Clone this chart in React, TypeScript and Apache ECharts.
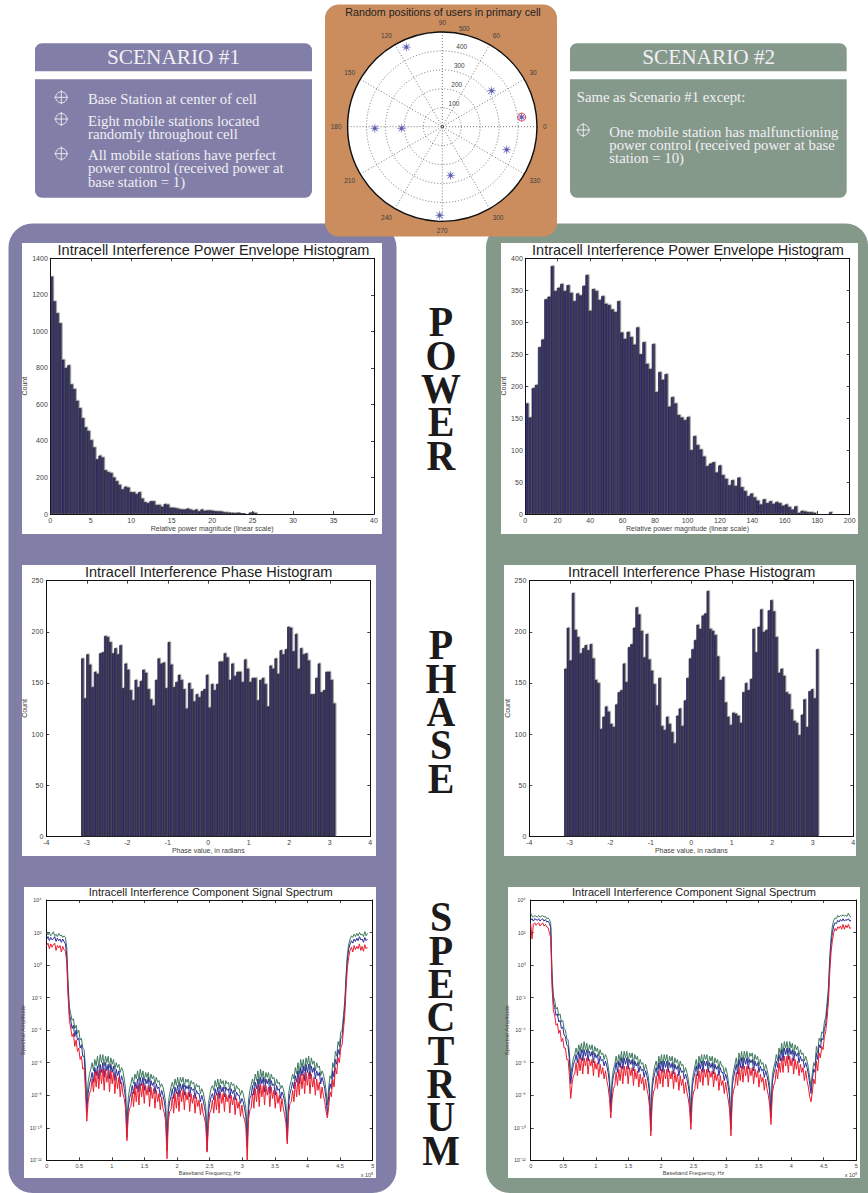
import React, { useEffect, useRef } from "react";
import * as echarts from "echarts";

// ---- Histogram values (counts) ----
const powerBinWidthA = 0.35;
const powerCountsA = [1300,1165,1100,1045,845,800,815,710,685,620,580,525,475,455,405,365,300,320,310,240,230,225,200,180,160,135,150,145,120,120,110,120,85,65,60,70,70,50,50,40,55,52,35,35,32,28,25,25,30,25,20,25,15,25,18,20,20,18,15,15,14,10,9,8,7,6,8,5,4,3,8,10,6,3,2,1,1,0,1,0,1,0,0,1,0,0,1,0,0,0,1,0,0,0,0,1,0,0,0,1];
const powerBinWidthB = 1.95;
const powerCountsB = [173,151,197,202,261,273,336,340,388,349,354,360,349,358,346,333,345,342,357,374,318,352,349,335,341,329,327,320,316,333,284,274,285,277,265,292,250,269,235,227,266,191,222,210,219,168,183,173,155,151,147,152,100,122,108,101,90,75,79,81,65,76,61,55,45,53,44,57,42,36,28,32,26,21,15,23,17,20,16,19,17,13,15,11,7,12,2,5,4,3,3,2,1,1,1,0,3,1,1,1];
const phaseCountsA = [174,135,178,168,146,161,159,179,180,196,195,190,179,184,178,187,145,169,163,143,133,153,146,152,163,160,144,134,128,153,174,169,170,145,190,168,146,151,158,153,144,125,150,144,132,139,136,142,144,158,126,149,143,149,171,171,179,175,153,169,157,161,161,151,173,164,151,155,155,133,153,155,149,127,167,164,174,159,182,178,183,205,204,181,198,164,184,178,179,172,139,139,155,169,141,143,161,161,153,130];
const phaseCountsB = [164,204,172,238,202,195,179,184,187,182,188,174,153,150,105,117,127,122,110,107,129,141,143,169,151,185,188,204,224,217,201,175,198,173,162,149,128,155,108,104,117,110,102,91,118,125,108,133,155,174,183,192,207,203,216,218,240,203,201,197,176,153,156,131,117,109,121,120,118,111,141,150,143,154,203,180,205,222,200,202,221,231,220,195,160,164,157,141,139,124,113,111,99,119,134,107,142,144,135,183];
const phaseStart = -3.14;
const phaseBinWidth = 0.0628;

// ---- Spectrum values: log10 of amplitude, one reading per 0.0205 x 10^5 Hz ----
const specStep = 0.0205;
const specGreenA = [2.0,1.85,2.0,1.8,1.9,2.05,1.8,1.9,1.75,1.95,1.8,1.85,1.7,1.8,1.7,1.1,
-1.0,-2.6,-3.0,-3.4,-3.3,-3.9,-3.7,-4.2,-4.0,-4.6,-4.5,-5.1,-5.2,-6.3,-8.4,
-7.2,-6.7,-6.4,-6.0,-6.5,-5.8,-6.2,-5.6,-6.3,-5.5,-6.0,-5.5,-6.2,-5.6,-6.0,-5.6,-6.3,-5.7,-6.1,-5.8,-6.4,-6.0,-6.3,-6.1,-6.6,-6.3,-6.5,-7.0,-7.6,-9.9,
-8.2,-7.6,-7.3,-6.9,-7.3,-6.7,-7.0,-6.5,-7.1,-6.4,-6.9,-6.5,-7.1,-6.6,-6.9,-6.6,-7.2,-6.7,-7.0,-6.8,-7.3,-6.9,-7.2,-7.1,-7.5,-7.3,-7.5,-7.9,-8.5,-10.6,
-8.5,-7.9,-7.5,-7.2,-7.6,-7.0,-7.4,-6.9,-7.5,-6.9,-7.2,-6.9,-7.5,-7.0,-7.2,-7.0,-7.6,-7.1,-7.3,-7.2,-7.7,-7.3,-7.5,-7.4,-7.9,-7.6,-7.8,-8.2,-8.7,-10.8,
-8.5,-8.0,-7.6,-7.4,-7.7,-7.1,-7.5,-7.0,-7.6,-7.0,-7.3,-7.1,-7.6,-7.1,-7.3,-7.2,-7.7,-7.2,-7.4,-7.3,-7.8,-7.4,-7.6,-7.6,-8.0,-7.7,-7.9,-8.3,-8.8,-10.4,
-8.3,-7.7,-7.4,-7.0,-7.4,-6.7,-7.1,-6.5,-7.3,-6.4,-6.9,-6.5,-7.2,-6.6,-6.9,-6.6,-7.3,-6.7,-7.0,-6.9,-7.4,-7.0,-7.3,-7.2,-7.6,-7.4,-7.6,-8.0,-8.5,-10.1,
-7.9,-7.4,-7.1,-6.7,-7.0,-6.3,-6.7,-6.0,-6.7,-5.8,-6.3,-5.8,-6.5,-5.7,-6.1,-5.6,-6.4,-5.7,-6.1,-5.9,-6.5,-6.0,-6.3,-6.2,-6.8,-6.5,-6.7,-7.1,-7.7,-8.6,
-7.5,-6.8,-7.0,-6.0,-6.3,-5.3,-5.6,-4.7,-5.0,-4.1,-4.0,-3.1,-2.2,-0.6,0.7,1.3,1.6,1.8,1.7,1.9,1.75,1.95,1.8,2.0,1.85,1.9,1.75,2.05,1.8,1.95];
const specBlueA = [1.6,1.75,1.5,1.7,1.55,1.6,1.75,1.45,1.65,1.5,1.6,1.4,1.6,1.45,1.3,0.6,
-1.6,-3.0,-3.4,-3.9,-3.7,-4.4,-4.0,-4.6,-4.5,-5.1,-4.9,-5.6,-5.6,-6.9,-9.0,
-7.9,-7.3,-7.0,-6.6,-7.2,-6.3,-6.8,-6.2,-7.0,-6.1,-6.6,-6.0,-6.9,-6.0,-6.5,-6.1,-7.0,-6.1,-6.6,-6.2,-7.1,-6.4,-6.8,-6.5,-7.3,-6.8,-7.1,-7.6,-8.2,-10.6,
-8.8,-8.2,-7.9,-7.4,-7.9,-7.2,-7.6,-7.0,-7.8,-6.9,-7.4,-6.9,-7.7,-7.0,-7.3,-6.9,-7.8,-7.1,-7.4,-7.2,-7.9,-7.3,-7.6,-7.5,-8.1,-7.7,-8.0,-8.4,-9.0,-11.4,
-9.0,-8.4,-8.1,-7.6,-8.2,-7.5,-7.9,-7.4,-8.1,-7.3,-7.7,-7.3,-8.0,-7.4,-7.6,-7.4,-8.1,-7.5,-7.7,-7.6,-8.2,-7.7,-7.9,-7.9,-8.4,-8.0,-8.3,-8.7,-9.2,-11.4,
-9.1,-8.5,-8.1,-7.9,-8.3,-7.6,-8.0,-7.5,-8.2,-7.4,-7.8,-7.5,-8.1,-7.5,-7.7,-7.6,-8.2,-7.6,-7.9,-7.7,-8.3,-7.8,-8.0,-8.0,-8.5,-8.2,-8.4,-8.8,-9.3,-11.2,
-8.9,-8.2,-8.0,-7.4,-8.0,-7.2,-7.6,-7.0,-7.9,-6.9,-7.3,-6.9,-7.8,-7.0,-7.3,-7.0,-7.9,-7.1,-7.4,-7.3,-8.0,-7.4,-7.7,-7.6,-8.2,-7.8,-8.0,-8.4,-9.0,-10.8,
-8.5,-7.9,-7.6,-7.2,-7.6,-6.8,-7.2,-6.5,-7.3,-6.3,-6.8,-6.2,-7.1,-6.1,-6.6,-6.1,-7.0,-6.2,-6.6,-6.3,-7.0,-6.5,-6.8,-6.6,-7.3,-6.9,-7.2,-7.6,-8.2,-9.2,
-8.0,-7.3,-7.6,-6.5,-6.9,-5.8,-6.1,-5.2,-5.5,-4.5,-4.4,-3.5,-2.6,-0.9,0.4,1.0,1.3,1.5,1.35,1.6,1.45,1.65,1.5,1.75,1.55,1.6,1.4,1.7,1.5,1.6];
const specRedA = [1.2,1.35,1.0,1.3,1.1,1.25,1.35,0.9,1.2,1.05,1.2,0.8,1.15,0.95,0.85,0.2,
-1.9,-3.4,-3.9,-4.4,-4.2,-5.0,-4.6,-5.3,-5.1,-5.8,-5.6,-6.4,-6.3,-7.7,-9.6,
-8.4,-7.9,-7.7,-7.0,-7.8,-6.6,-7.5,-6.5,-7.6,-6.4,-7.3,-6.4,-7.7,-6.4,-7.2,-6.5,-7.8,-6.5,-7.3,-6.6,-7.9,-6.8,-7.6,-6.9,-8.1,-7.2,-7.9,-8.2,-8.8,-10.8,
-9.3,-8.8,-8.7,-7.8,-8.7,-7.5,-8.4,-7.4,-8.6,-7.3,-8.1,-7.3,-8.5,-7.4,-8.0,-7.4,-8.7,-7.5,-8.2,-7.6,-8.8,-7.7,-8.4,-7.9,-8.9,-8.1,-8.8,-9.1,-9.6,-11.9,
-9.6,-9.0,-8.9,-8.1,-9.1,-7.9,-8.8,-7.8,-9.0,-7.7,-8.4,-7.7,-8.9,-7.8,-8.3,-7.8,-9.0,-7.9,-8.5,-8.0,-9.1,-8.1,-8.7,-8.3,-9.2,-8.5,-9.1,-9.4,-9.8,-11.5,
-9.8,-9.1,-8.9,-8.3,-9.1,-8.0,-8.9,-7.9,-9.1,-7.8,-8.5,-7.9,-9.0,-7.9,-8.4,-8.0,-9.1,-8.0,-8.6,-8.1,-9.2,-8.2,-8.8,-8.4,-9.3,-8.6,-9.2,-9.5,-9.9,-12,
-9.5,-8.9,-8.8,-7.9,-8.8,-7.6,-8.4,-7.4,-8.7,-7.3,-8.1,-7.4,-8.6,-7.4,-8.0,-7.5,-8.7,-7.5,-8.2,-7.7,-8.8,-7.8,-8.5,-8.0,-9.0,-8.2,-8.8,-9.2,-9.7,-11.0,
-9.1,-8.5,-8.4,-7.7,-8.4,-7.2,-8.1,-6.9,-8.0,-6.7,-7.6,-6.7,-7.9,-6.6,-7.4,-6.6,-7.9,-6.7,-7.5,-6.9,-8.0,-7.0,-7.7,-7.2,-8.2,-7.5,-8.0,-8.4,-9.0,-9.4,
-8.7,-7.8,-8.1,-7.0,-7.5,-6.3,-6.7,-5.7,-6.0,-5.1,-4.9,-4.0,-3.1,-1.4,-0.1,0.5,0.9,1.1,0.8,1.2,0.95,1.15,1.0,1.3,0.9,1.15,0.85,1.25,1.0,1.1];
const specGreenB = [3.2,3.0,2.95,3.05,3.0,2.95,3.05,2.95,3.0,3.05,2.95,3.0,2.85,2.9,2.8,2.55,
-0.5,-1.9,-2.2,-2.7,-2.6,-3.1,-3.0,-3.5,-3.4,-3.9,-4.0,-4.5,-4.6,-5.4,-6.8,
-6.2,-5.7,-5.5,-5.1,-5.5,-4.9,-5.3,-4.8,-5.4,-4.7,-5.2,-4.8,-5.4,-4.9,-5.2,-4.9,-5.5,-5.0,-5.3,-5.1,-5.6,-5.2,-5.5,-5.4,-5.8,-5.5,-5.7,-6.2,-6.8,-8.6,
-7.0,-6.4,-6.1,-5.6,-6.1,-5.5,-5.9,-5.3,-6.0,-5.3,-5.7,-5.3,-6.0,-5.4,-5.7,-5.4,-6.1,-5.5,-5.8,-5.6,-6.2,-5.8,-6.1,-6.0,-6.5,-6.1,-6.4,-6.8,-7.5,-9.6,
-7.2,-6.6,-6.2,-5.9,-6.4,-5.6,-6.1,-5.5,-6.2,-5.5,-5.9,-5.5,-6.2,-5.6,-5.9,-5.6,-6.3,-5.7,-6.0,-5.8,-6.4,-5.9,-6.2,-6.1,-6.6,-6.3,-6.6,-7.0,-7.6,-9.3,
-7.1,-6.6,-6.2,-5.8,-6.4,-5.6,-6.0,-5.5,-6.2,-5.5,-5.8,-5.5,-6.2,-5.6,-5.9,-5.6,-6.3,-5.7,-6.0,-5.8,-6.4,-5.9,-6.2,-6.2,-6.7,-6.3,-6.6,-7.1,-7.7,-9.7,
-7.0,-6.5,-6.1,-5.7,-6.3,-5.4,-5.9,-5.3,-6.0,-5.3,-5.7,-5.3,-6.0,-5.4,-5.6,-5.4,-6.1,-5.5,-5.8,-5.6,-6.2,-5.8,-6.1,-6.0,-6.5,-6.1,-6.4,-6.8,-7.4,-9.0,
-6.8,-6.3,-6.0,-5.5,-5.9,-5.1,-5.5,-4.8,-5.5,-4.7,-5.1,-4.7,-5.4,-4.7,-5.1,-4.8,-5.5,-4.9,-5.2,-5.0,-5.6,-5.2,-5.5,-5.4,-5.9,-5.6,-5.9,-6.3,-6.9,-7.5,
-6.6,-6.0,-6.2,-5.0,-5.4,-4.5,-4.7,-4.1,-4.2,-3.5,-3.2,-2.3,-1.4,0.5,1.7,2.4,2.75,2.9,2.85,3.05,2.95,3.05,3.0,3.1,3.0,3.05,3.0,3.2,3.0,2.95];
const specBlueB = [2.75,2.85,2.7,2.85,2.8,2.75,2.85,2.7,2.8,2.85,2.7,2.8,2.65,2.7,2.55,2.3,
-0.9,-2.3,-2.6,-3.1,-3.0,-3.5,-3.4,-3.9,-3.8,-4.3,-4.4,-4.9,-5.0,-5.8,-7.3,
-6.6,-6.1,-5.9,-5.5,-6.0,-5.3,-5.8,-5.2,-5.9,-5.2,-5.6,-5.2,-5.9,-5.3,-5.6,-5.3,-6.0,-5.4,-5.7,-5.5,-6.1,-5.6,-5.9,-5.8,-6.2,-5.9,-6.2,-6.6,-7.3,-9.0,
-7.4,-6.8,-6.5,-6.0,-6.6,-5.9,-6.3,-5.7,-6.4,-5.7,-6.1,-5.7,-6.4,-5.8,-6.1,-5.8,-6.5,-5.9,-6.2,-6.0,-6.6,-6.2,-6.5,-6.4,-6.9,-6.5,-6.8,-7.2,-7.9,-10.2,
-7.6,-7.0,-6.6,-6.3,-6.8,-6.0,-6.5,-5.9,-6.6,-5.9,-6.3,-5.9,-6.6,-6.0,-6.3,-6.0,-6.7,-6.1,-6.4,-6.2,-6.8,-6.3,-6.6,-6.5,-7.0,-6.7,-7.0,-7.4,-8.0,-9.7,
-7.5,-7.0,-6.6,-6.2,-6.8,-6.0,-6.4,-5.9,-6.6,-5.9,-6.2,-5.9,-6.6,-6.0,-6.3,-6.0,-6.7,-6.1,-6.4,-6.2,-6.8,-6.3,-6.6,-6.6,-7.1,-6.7,-7.0,-7.5,-8.1,-10.1,
-7.4,-6.9,-6.5,-6.1,-6.7,-5.8,-6.3,-5.7,-6.4,-5.7,-6.1,-5.7,-6.4,-5.8,-6.0,-5.8,-6.5,-5.9,-6.2,-6.0,-6.6,-6.2,-6.5,-6.4,-6.9,-6.5,-6.8,-7.2,-7.8,-9.4,
-7.2,-6.7,-6.4,-5.9,-6.3,-5.5,-5.9,-5.2,-5.9,-5.1,-5.5,-5.1,-5.8,-5.1,-5.5,-5.2,-5.9,-5.3,-5.6,-5.4,-6.0,-5.6,-5.9,-5.8,-6.3,-6.0,-6.3,-6.7,-7.3,-7.9,
-7.0,-6.4,-6.6,-5.4,-5.8,-4.9,-5.1,-4.5,-4.6,-3.9,-3.6,-2.7,-1.8,0.1,1.3,2.0,2.4,2.6,2.55,2.75,2.65,2.8,2.7,2.85,2.7,2.8,2.75,2.85,2.7,2.75];
const specRedB = [2.55,1.6,2.5,2.6,2.45,2.55,2.6,2.4,2.5,2.6,2.4,2.5,2.35,2.3,2.0,1.7,
-1.4,-2.8,-3.1,-3.7,-3.6,-4.2,-4.0,-4.7,-4.5,-5.1,-5.1,-5.8,-5.8,-6.8,-8.2,
-7.3,-6.8,-6.7,-6.0,-6.8,-5.8,-6.5,-5.7,-6.7,-5.7,-6.2,-5.7,-6.7,-5.8,-6.2,-5.8,-6.8,-5.9,-6.4,-6.0,-6.9,-6.1,-6.7,-6.3,-7.0,-6.5,-7.1,-7.5,-8.2,-9.4,
-8.2,-7.6,-7.4,-6.6,-7.4,-6.4,-7.1,-6.2,-7.3,-6.2,-6.8,-6.2,-7.3,-6.3,-6.8,-6.3,-7.4,-6.4,-7.0,-6.5,-7.5,-6.7,-7.3,-6.9,-7.7,-7.0,-7.6,-8.0,-8.7,-10.5,
-8.4,-7.8,-7.6,-6.8,-7.6,-6.5,-7.3,-6.4,-7.5,-6.4,-7.0,-6.4,-7.5,-6.5,-7.0,-6.5,-7.6,-6.6,-7.2,-6.7,-7.7,-6.8,-7.4,-7.0,-7.9,-7.2,-7.8,-8.2,-8.8,-10.1,
-8.3,-7.8,-7.6,-6.7,-7.6,-6.5,-7.2,-6.4,-7.4,-6.4,-6.9,-6.4,-7.4,-6.5,-6.9,-6.5,-7.5,-6.6,-7.1,-6.7,-7.7,-6.8,-7.4,-7.1,-7.9,-7.2,-7.8,-8.3,-8.9,-10.5,
-8.2,-7.7,-7.4,-6.6,-7.4,-6.3,-7.1,-6.2,-7.2,-6.2,-6.8,-6.2,-7.2,-6.3,-6.8,-6.3,-7.3,-6.4,-6.9,-6.5,-7.5,-6.7,-7.2,-6.9,-7.7,-7.0,-7.6,-8.0,-8.6,-9.8,
-7.9,-7.4,-7.2,-6.4,-7.0,-6.0,-6.6,-5.7,-6.6,-5.6,-6.2,-5.6,-6.6,-5.6,-6.2,-5.7,-6.7,-5.8,-6.4,-5.9,-6.8,-6.1,-6.6,-6.3,-7.1,-6.5,-7.1,-7.5,-8.1,-8.4,
-7.8,-7.0,-7.3,-5.9,-6.5,-5.4,-5.7,-5.0,-5.2,-4.4,-4.1,-3.3,-2.3,-0.5,0.8,1.5,2.0,2.25,2.1,2.35,2.25,2.4,2.2,2.5,2.2,2.45,2.3,2.5,2.25,2.3];

// ---- Polar: [radius, angle in degrees] of each mobile station ----
const usersPolar = [[461,114.3],[322,36.1],[422,6.9],[361,340.3],[261,279.7],[468,268.3],[215,182.3],[356,181.4]];
const malfunctioningUser = [[422,6.9]];
const baseStation = [[0,0]];

// ---- Text ----
const SANS = '"Liberation Sans", Arial, sans-serif';
const SERIF = '"Liberation Serif", "Times New Roman", serif';
const PURPLE = "#817ea7";
const GREEN = "#85998b";
const ORANGE = "#cb8d5e";
const INK = "#3f3f3f";
const PALE = "#f1eff5";

const scenario1Lines = [
  ["Base Station at center of cell", 88, 99.7],
  ["Eight mobile stations located", 88, 121],
  ["randomly throughout cell", 88, 134.3],
  ["All mobile stations have perfect", 88, 155.7],
  ["power control (received power at", 88, 168.7],
  ["base station = 1)", 88, 182],
] as const;
const scenario2Lines = [
  ["Same as Scenario #1 except:", 576.7, 97.7],
  ["One mobile station has malfunctioning", 609.3, 132.3],
  ["power control (received power at base", 609.3, 145],
  ["station = 10)", 609.3, 158],
] as const;
const bullets = [[61.3, 97.3], [61.3, 119], [61.3, 153.7], [583.3, 130]];
const sideWords = [["POWER", 322], ["PHASE", 645], ["SPECTRUM", 917]] as const;
const radialLabels = [["100", 454, 103.3], ["200", 456.7, 84.7], ["300", 459.3, 65.7], ["400", 461.7, 46.7], ["500", 464.3, 28]] as const;

function starPath() {
  const pts: string[] = [];
  for (let k = 0; k < 16; k++) {
    const a = (k * Math.PI) / 8;
    const r = k % 2 === 0 ? 10 : 2.6;
    pts.push(`${(10 + r * Math.sin(a)).toFixed(2)} ${(10 - r * Math.cos(a)).toFixed(2)}`);
  }
  return "path://M" + pts.join("L") + "Z";
}

const SUP: Record<string, string> = { "-": "⁻", "0": "⁰", "1": "¹", "2": "²", "3": "³", "4": "⁴", "5": "⁵", "6": "⁶", "7": "⁷", "8": "⁸", "9": "⁹" };
const pow10Label = (v: number) => "10" + String(Math.round(Math.log10(v))).split("").map((c) => SUP[c]).join("");
const plainLabel = (v: number) => String(v);

const grids: any[] = [];
const xAxes: any[] = [];
const yAxes: any[] = [];
const series: any[] = [];

function addPlot(p: {
  left: number; top: number; right: number; bottom: number;
  xMin: number; xMax: number; xInt: number; xName: string; xNameGap: number;
  yMin: number; yMax: number; yInt: number; yName: string; yNameGap: number;
  log?: boolean; font: number; yMargin: number;
}) {
  const gi = grids.length;
  grids.push({ left: p.left, top: p.top, width: p.right - p.left, height: p.bottom - p.top, show: false });
  const line = { show: true, onZero: false, lineStyle: { color: "#111", width: 1 } };
  const tick = { show: true, inside: true, length: 3, lineStyle: { color: "#111", width: 0.8 } };
  const xBase = { type: "value", gridIndex: gi, min: p.xMin, max: p.xMax, interval: p.xInt, splitLine: { show: false }, axisLine: line, axisTick: tick };
  xAxes.push({
    ...xBase, position: "bottom",
    axisLabel: { fontFamily: SANS, fontSize: p.font, color: INK, margin: 3, hideOverlap: false, showMinLabel: true, showMaxLabel: true, formatter: plainLabel },
    name: p.xName, nameLocation: "middle", nameGap: p.xNameGap,
    nameTextStyle: { fontFamily: SANS, fontSize: p.font, color: INK },
  });
  xAxes.push({ ...xBase, position: "top", axisLabel: { show: false } });
  const yBase: any = p.log
    ? { type: "log", logBase: 10, gridIndex: gi, min: p.yMin, max: p.yMax, interval: p.yInt, splitLine: { show: false }, minorTick: { show: false }, axisLine: line, axisTick: tick }
    : { type: "value", gridIndex: gi, min: p.yMin, max: p.yMax, interval: p.yInt, splitLine: { show: false }, axisLine: line, axisTick: tick };
  yAxes.push({
    ...yBase, position: "left",
    axisLabel: { fontFamily: SANS, fontSize: p.font, color: INK, margin: p.yMargin, showMinLabel: true, showMaxLabel: true, formatter: p.log ? pow10Label : plainLabel },
    name: p.yName, nameLocation: "middle", nameGap: p.yNameGap, nameRotate: 90,
    nameTextStyle: { fontFamily: SANS, fontSize: p.log ? 6 : p.font, color: INK },
  });
  yAxes.push({ ...yBase, position: "right", axisLabel: { show: false } });
  return gi * 2;
}

function addHistogram(axisIdx: number, start: number, binW: number, counts: number[], barW: number) {
  series.push({
    type: "bar",
    xAxisIndex: axisIdx,
    yAxisIndex: axisIdx,
    barWidth: barW,
    barGap: "-100%",
    data: counts.map((c, i) => [start + (i + 0.5) * binW, c]),
    itemStyle: { color: "#3d3873", borderColor: "#17152e", borderWidth: 0.7, shadowColor: "#9b9b9b", shadowOffsetX: 1, shadowOffsetY: -0.6, shadowBlur: 0 },
  });
}

function addSpectrum(axisIdx: number, green: number[], blue: number[], red: number[]) {
  [
    [green, "#3f7a5e"],
    [blue, "#2b2d98"],
    [red, "#ec1c2c"],
  ].forEach(([vals, color]: any) => {
    series.push({
      type: "line",
      xAxisIndex: axisIdx,
      yAxisIndex: axisIdx,
      showSymbol: false,
      symbol: "none",
      clip: true,
      lineStyle: { color, width: 1 },
      data: vals.map((v: number, i: number) => [i * specStep, Math.pow(10, v)]),
    });
  });
}

// power histograms
const a0 = addPlot({ left: 50.3, top: 258.3, right: 374, bottom: 514, xMin: 0, xMax: 40, xInt: 5, xName: "Relative power magnitude (linear scale)", xNameGap: 10, yMin: 0, yMax: 1400, yInt: 200, yName: "Count", yNameGap: 22, font: 7, yMargin: 2.5 });
addHistogram(a0, 0, powerBinWidthA, powerCountsA, 2.84);
const a1 = addPlot({ left: 525.3, top: 258.3, right: 849.7, bottom: 514, xMin: 0, xMax: 200, xInt: 20, xName: "Relative power magnitude (linear scale)", xNameGap: 10, yMin: 0, yMax: 400, yInt: 50, yName: "Count", yNameGap: 18, font: 7, yMargin: 2.5 });
addHistogram(a1, 0, powerBinWidthB, powerCountsB, 3.16);
// phase histograms
const a2 = addPlot({ left: 46.3, top: 580.7, right: 370.3, bottom: 836.3, xMin: -4, xMax: 4, xInt: 1, xName: "Phase value, in radians", xNameGap: 10, yMin: 0, yMax: 250, yInt: 50, yName: "Count", yNameGap: 18, font: 7, yMargin: 3 });
addHistogram(a2, phaseStart, phaseBinWidth, phaseCountsA, 2.54);
const a3 = addPlot({ left: 529.3, top: 580.7, right: 853.3, bottom: 836.3, xMin: -4, xMax: 4, xInt: 1, xName: "Phase value, in radians", xNameGap: 10, yMin: 0, yMax: 250, yInt: 50, yName: "Count", yNameGap: 18, font: 7, yMargin: 3 });
addHistogram(a3, phaseStart, phaseBinWidth, phaseCountsB, 2.54);
// spectra
const a4 = addPlot({ left: 46.7, top: 900, right: 372.7, bottom: 1160.3, xMin: 0, xMax: 5, xInt: 0.5, xName: "Baseband Frequency, Hz", xNameGap: 9, yMin: 1e-12, yMax: 1e4, yInt: 2, yName: "Spectral Amplitude", yNameGap: 15, log: true, font: 5.5, yMargin: 5 });
addSpectrum(a4, specGreenA, specBlueA, specRedA);
const a5 = addPlot({ left: 530.7, top: 900, right: 856.3, bottom: 1160.3, xMin: 0, xMax: 5, xInt: 0.5, xName: "Baseband Frequency, Hz", xNameGap: 9, yMin: 1e-12, yMax: 1e4, yInt: 2, yName: "Spectral Amplitude", yNameGap: 15, log: true, font: 5.5, yMargin: 5 });
addSpectrum(a5, specGreenB, specBlueB, specRedB);

// polar marks
series.push({
  type: "scatter", coordinateSystem: "polar", symbol: starPath(), symbolSize: 9,
  data: usersPolar, itemStyle: { color: "#2a2c96", borderColor: "#5c5eb4", borderWidth: 0.3 }, z: 5,
});
series.push({
  type: "scatter", coordinateSystem: "polar", symbol: "circle", symbolSize: 8,
  data: malfunctioningUser, itemStyle: { color: "transparent", borderColor: "#e8202c", borderWidth: 1 }, z: 6,
});
series.push({
  type: "scatter", coordinateSystem: "polar", symbol: "circle", symbolSize: 3,
  data: baseStation, itemStyle: { color: "transparent", borderColor: "#333", borderWidth: 0.7 }, z: 6,
});

const titles = [
  { text: "Intracell Interference Power Envelope Histogram", x: 213.5, y: 242.5, size: 14.5 },
  { text: "Intracell Interference Power Envelope Histogram", x: 688, y: 242.5, size: 14.5 },
  { text: "Intracell Interference Phase Histogram", x: 208.6, y: 564, size: 14.5 },
  { text: "Intracell Interference Phase Histogram", x: 691.6, y: 564, size: 14.5 },
  { text: "Intracell Interference Component Signal Spectrum", x: 210.7, y: 886.5, size: 11 },
  { text: "Intracell Interference Component Signal Spectrum", x: 694, y: 886.5, size: 11 },
  { text: "Random positions of users in primary cell", x: 443, y: 6.5, size: 10.7 },
];

function txt(text: string, x: number, y: number, size: number, fill: string, family: string, align = "left", extra: any = {}, sx = 1, sy = 1) {
  return { type: "text", z: 20, x, y, scaleX: sx, scaleY: sy, style: { text, fill, fontSize: size, fontFamily: family, textAlign: align, textVerticalAlign: "middle", ...extra } };
}

function backgrounds() {
  const rect = (x: number, y: number, w: number, h: number, fill: string, r: any = 0, z = -20) => ({
    type: "rect", z, shape: { x, y, width: w, height: h, r }, style: { fill },
  });
  return [
    rect(8.5, 223.5, 388, 969.5, PURPLE, [24, 24, 24, 24]),
    rect(486, 223.5, 382, 969.5, GREEN, [24, 22, 0, 24]),
    rect(35, 43.3, 277, 28, PURPLE, [7, 7, 0, 0]),
    rect(35, 79.3, 277, 118.4, PURPLE, [0, 0, 7, 7]),
    rect(570, 43.3, 276.7, 28, GREEN, [7, 7, 0, 0]),
    rect(570, 79.3, 276.7, 118.4, GREEN, [0, 0, 7, 7]),
    rect(325, 4.5, 232, 232, ORANGE, 14, -15),
    rect(22, 243, 360, 291, "#fff", 0, -12),
    rect(501, 243, 357, 291, "#fff", 0, -12),
    rect(22, 565, 354, 291, "#fff", 0, -12),
    rect(504, 565, 352, 291, "#fff", 0, -12),
    rect(24, 887, 352, 291, "#fff", 0, -12),
    rect(508, 887, 352, 291, "#fff", 0, -12),
    { type: "circle", z: -10, shape: { cx: 442.3, cy: 126.7, r: 94.7 }, style: { fill: "#fff" } },
  ];
}

function bulletShapes() {
  const out: any[] = [];
  bullets.forEach(([cx, cy]) => {
    const s = { stroke: PALE, lineWidth: 0.9, fill: "none" };
    out.push({ type: "circle", z: 20, shape: { cx, cy, r: 5.6 }, style: s });
    out.push({ type: "line", z: 20, shape: { x1: cx - 7, y1: cy, x2: cx + 7, y2: cy }, style: s });
    out.push({ type: "line", z: 20, shape: { x1: cx, y1: cy - 7, x2: cx, y2: cy + 7 }, style: s });
  });
  return out;
}

function sideLetters() {
  const out: any[] = [];
  sideWords.forEach(([word, y0]) => {
    word.split("").forEach((ch, i) => {
      out.push(txt(ch, 441, y0 + i * 33.3, 30, "#1c1a1a", SERIF, "center", { fontWeight: "bold" }, 1.33, 1.43));
    });
  });
  return out;
}

const option: any = {
  animation: false,
  backgroundColor: "#fff",
  title: titles.map((t) => ({
    text: t.text, left: t.x, top: t.y, textAlign: "center", padding: 0,
    textStyle: { fontFamily: SANS, fontSize: t.size, fontWeight: "normal", color: "#222" },
  })),
  grid: grids,
  xAxis: xAxes,
  yAxis: yAxes,
  polar: { center: [442.3, 126.7], radius: 94.7 },
  angleAxis: {
    type: "value", min: 0, max: 360, interval: 30, startAngle: 0, clockwise: false,
    axisLine: { show: true, lineStyle: { color: "#111", width: 1.4 } },
    axisTick: { show: false },
    splitLine: { show: true, lineStyle: { color: "#555", width: 0.8, type: [1, 2] } },
    axisLabel: { fontFamily: SANS, fontSize: 6.5, color: INK, margin: 6 },
  },
  radiusAxis: {
    type: "value", min: 0, max: 500, interval: 100,
    axisLine: { show: false }, axisTick: { show: false }, axisLabel: { show: false },
    splitLine: { show: true, lineStyle: { color: "#555", width: 0.8, type: [1, 2] } },
  },
  series,
  graphic: {
    elements: [
      ...backgrounds(),
      txt("SCENARIO #1", 173.5, 57, 21.3, PALE, SERIF, "center"),
      txt("SCENARIO #2", 708.7, 57, 21.3, PALE, SERIF, "center"),
      ...scenario1Lines.map(([t, x, y]) => txt(t, x, y, 12.4, PALE, SERIF, "left", {}, 1.19, 1.1)),
      ...scenario2Lines.map(([t, x, y]) => txt(t, x, y, 12.4, PALE, SERIF, "left", {}, 1.19, 1.1)),
      ...bulletShapes(),
      ...sideLetters(),
      ...radialLabels.map(([t, x, y]) => txt(t, x, y, 6.5, INK, SANS, "center")),
      txt("x 10⁵", 367, 1175, 5.5, INK, SANS, "center"),
      txt("x 10⁵", 851, 1175, 5.5, INK, SANS, "center"),
    ],
  },
};

export default function App() {
  const ref = useRef<HTMLDivElement>(null);
  useEffect(() => {
    document.body.style.margin = "0";
    const chart = echarts.init(ref.current!, undefined, { renderer: "svg" });
    chart.setOption(option);
    return () => chart.dispose();
  }, []);
  return <div ref={ref} style={{ position: "absolute", left: 0, top: 0, width: 868, height: 1193 }} />;
}
